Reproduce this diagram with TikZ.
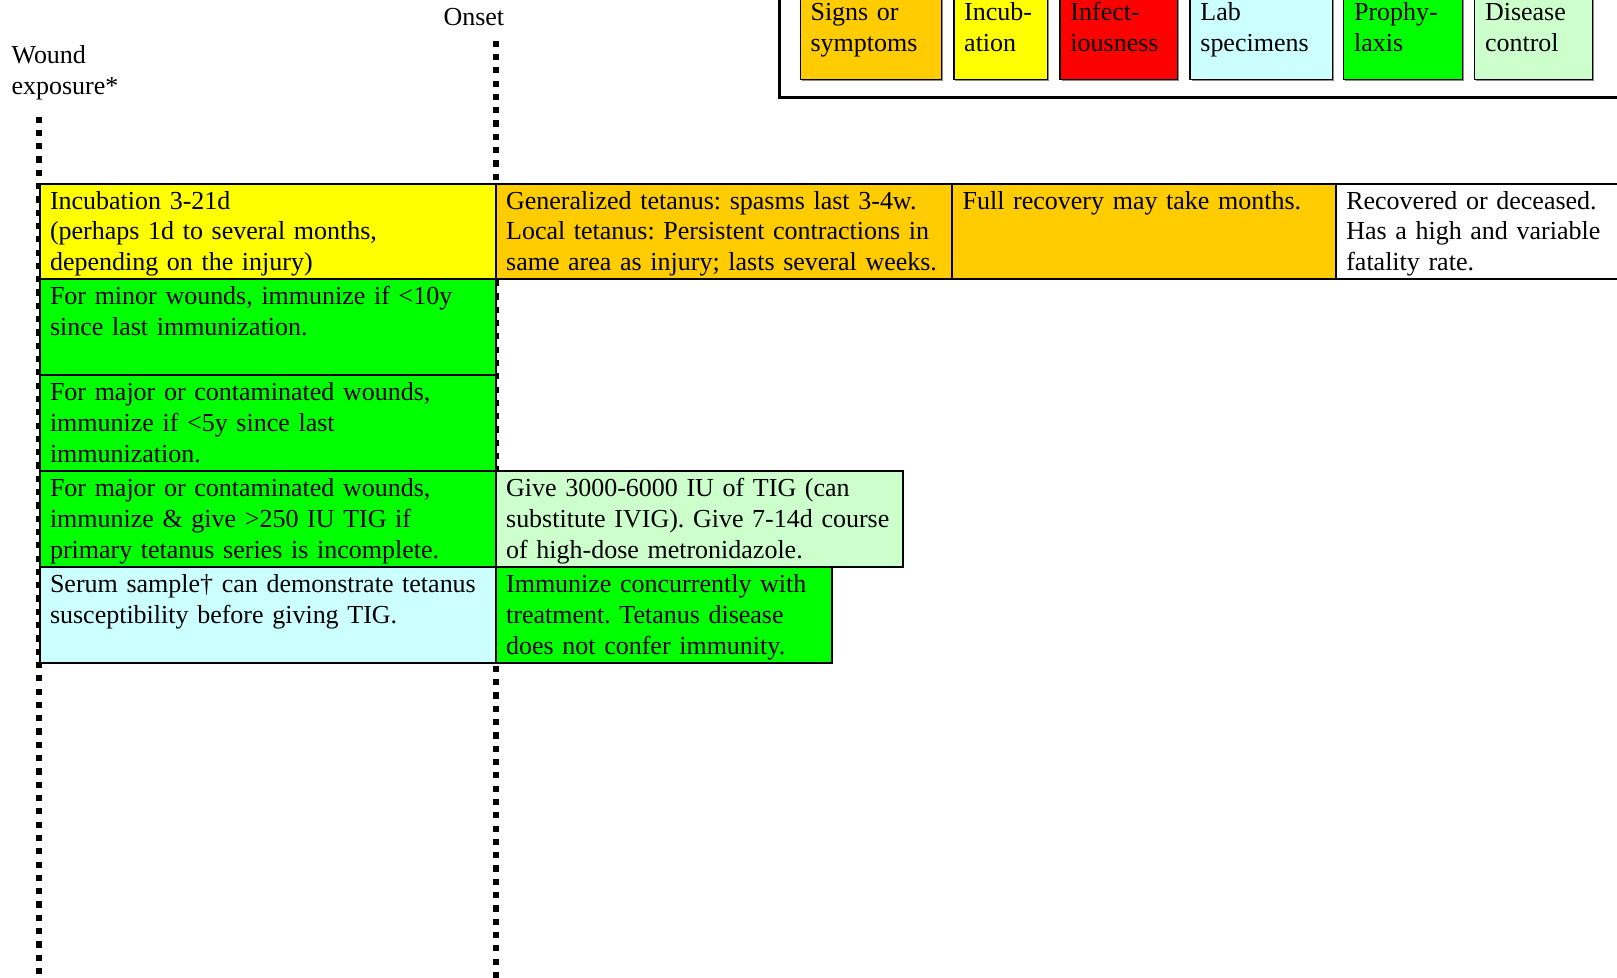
\documentclass[tikz,border=0pt]{standalone}
\usepackage{fontspec}
\setmainfont{Liberation Serif}
\usetikzlibrary{shadows}

\definecolor{symptom}{HTML}{FFCC00}
\definecolor{incubat}{HTML}{FFFF00}
\definecolor{infect}{HTML}{FF0000}
\definecolor{labspec}{HTML}{CCFFFF}
\definecolor{prophyl}{HTML}{00FF00}
\definecolor{control}{HTML}{CCFFCC}

\begin{document}
\frenchspacing
\begin{tikzpicture}[x=1pt, y=-1pt, font=\fontsize{25.2}{30}\selectfont\frenchspacing]
    \tikzstyle{cell} = [rectangle, draw, line width=1.9pt, anchor=north west, outer sep=0pt,
                                      align=left, inner xsep=10pt, inner ysep=0pt,
                                      text height=24.7pt, text depth=68.3pt]
    \tikzstyle{swatch} = [rectangle, draw, line width=1.4pt, anchor=south west, outer sep=0pt,
                                      align=left, inner xsep=10pt, inner ysep=0pt,
                                      text height=30pt, text depth=57.2pt,
                                      drop shadow={shadow xshift=1.5pt, shadow yshift=-1.5pt, fill=black!45, opacity=1}]
    \tikzstyle{dots} = [line width=5.8pt, dash pattern=on 6pt off 6.9pt]
  \useasboundingbox (0,0) rectangle (1568,947.4);
  \clip (0,0) rectangle (1568,947.4);
  % time marks
  \node[anchor=base, inner sep=0pt](onset) at (459.5,24.7){Onset};
  \node[anchor=base west, inner sep=0pt, text width=200pt, align=left](wound) at (11,61.7){Wound\\exposure*};
  \coordinate (woundtop) at (38,113);
  \coordinate (woundend) at (38,965);
  \coordinate (onsettop) at (480.8,39.4);
  \coordinate (onsetend) at (480.8,965);
  \draw[dots] (woundtop) -- (woundend);
  \draw[dots] (onsettop) -- (onsetend);
  % legend
  \draw[line width=2.4pt] (756,-20) rectangle (1600,94.4);
  \node[swatch, fill=symptom, text width=117pt](lsigns) at (776,76.9){Signs or\\symptoms};
  \node[swatch, fill=incubat, text width=71pt](lincub) at ([xshift=12pt]lsigns.south east){Incub-\\ation};
  \node[swatch, fill=infect, text width=94pt](linfect) at ([xshift=12pt]lincub.south east){Infect-\\iousness};
  \node[swatch, fill=labspec, text width=118pt](llab) at ([xshift=12pt]linfect.south east){Lab\\specimens};
  \node[swatch, fill=prophyl, text width=95pt](lproph) at ([xshift=11pt]llab.south east){Prophy-\\laxis};
  \node[swatch, fill=control, text width=94pt](lcontrol) at ([xshift=12pt]lproph.south east){Disease\\control};
  % course of the disease
  \node[cell, fill=incubat, text width=422.3pt](incub) at (38.5,178){Incubation 3-21d\\(perhaps 1d to several months,\\depending on the injury)};
  \node[cell, fill=symptom, text width=422.7pt](general) at (incub.north east){Generalized tetanus: spasms last 3-4w.\\Local tetanus: Persistent contractions in\\same area as injury; lasts several weeks.};
  \node[cell, fill=symptom, text width=352pt](recovery) at (general.north east){Full recovery may take months.};
  \node[cell, fill=white, text width=284.5pt](outcome) at (recovery.north east){Recovered or deceased.\\Has a high and variable\\fatality rate.};
  % prophylaxis and control
  \node[cell, fill=prophyl, text width=422.3pt](minor) at (incub.south west){For minor wounds, immunize if \textless10y\\since last immunization.};
  \node[cell, fill=prophyl, text width=422.3pt](major) at (minor.south west){For major or contaminated wounds,\\immunize if \textless5y since last\\immunization.};
  \node[cell, fill=prophyl, text width=422.3pt](boost) at (major.south west){For major or contaminated wounds,\\immunize \& give \textgreater250 IU TIG if\\primary tetanus series is incomplete.};
  \node[cell, fill=control, text width=375.2pt](tig) at (boost.north east){Give 3000-6000 IU of TIG (can\\substitute IVIG). Give 7-14d course\\of high-dose metronidazole.};
  \node[cell, fill=labspec, text width=422.3pt](serum) at (boost.south west){Serum sample† can demonstrate tetanus\\susceptibility before giving TIG.};
  \node[cell, fill=prophyl, text width=305.7pt](immun) at (serum.north east){Immunize concurrently with\\treatment. Tetanus disease\\does not confer immunity.};
\end{tikzpicture}
\end{document}
